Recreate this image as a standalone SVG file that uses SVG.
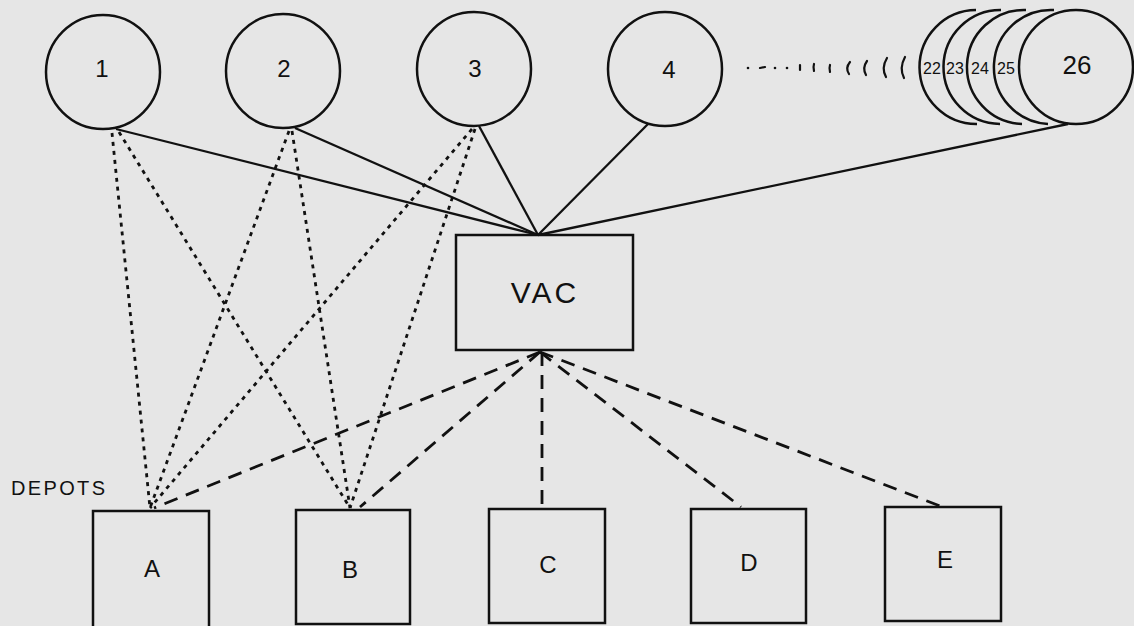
<svg xmlns="http://www.w3.org/2000/svg" width="1134" height="626" viewBox="0 0 1134 626">
<style>
.bg{fill:#e6e6e6}
.shape{fill:none;stroke:#111;stroke-width:2.5}
.solid{fill:none;stroke:#111;stroke-width:2.3}
.dot{fill:none;stroke:#111;stroke-width:2.8;stroke-dasharray:4 5}
.dash{fill:none;stroke:#111;stroke-width:2.8;stroke-dasharray:14 9}
.mark{fill:none;stroke:#111;stroke-width:2.2;stroke-linecap:round}
.lbl{font-family:"Liberation Sans",Arial,sans-serif;fill:#111;text-anchor:middle}
.big{font-size:24px}
.small{font-size:16px}
</style>
<rect class="bg" x="0" y="0" width="1134" height="626"/>
<g id="connectors">
<line class="solid" x1="116" y1="129" x2="538" y2="235"/>
<line class="solid" x1="295" y1="128" x2="538" y2="235"/>
<line class="solid" x1="479" y1="126" x2="538" y2="235"/>
<line class="solid" x1="648" y1="124" x2="538" y2="235"/>
<line class="solid" x1="1068" y1="124" x2="538" y2="235"/>
<line class="dot" x1="112" y1="133" x2="150" y2="508"/>
<line class="dot" x1="119" y1="132" x2="350" y2="508"/>
<line class="dot" x1="289" y1="131" x2="150" y2="508"/>
<line class="dot" x1="292" y1="131" x2="350" y2="508"/>
<line class="dot" x1="472" y1="129" x2="150" y2="508"/>
<line class="dot" x1="475" y1="129" x2="350" y2="508"/>
<line class="dash" x1="540" y1="352" x2="154" y2="508"/>
<line class="dash" x1="540" y1="352" x2="360" y2="507"/>
<line class="dash" x1="542" y1="352" x2="542" y2="509"/>
<line class="dash" x1="540" y1="352" x2="741" y2="507"/>
<line class="dash" x1="540" y1="352" x2="940" y2="506"/>
</g>
<g id="n1"><circle class="shape" cx="103" cy="72" r="57"/><text class="lbl big" x="102" y="77">1</text></g>
<g id="n2"><circle class="shape" cx="283" cy="71" r="57"/><text class="lbl big" x="284" y="77">2</text></g>
<g id="n3"><circle class="shape" cx="474" cy="69" r="57"/><text class="lbl big" x="475" y="77">3</text></g>
<g id="n4"><circle class="shape" cx="665" cy="69" r="57"/><text class="lbl big" x="669" y="78">4</text></g>
<g id="ellipsis">
<circle cx="748" cy="68" r="1.3" fill="#111"/>
<line class="mark" x1="760" y1="68" x2="765" y2="67"/>
<circle cx="775" cy="68" r="1.3" fill="#111"/>
<circle cx="787" cy="68" r="1.3" fill="#111"/>
<path class="mark" d="M800 65 L800 70"/>
<path class="mark" d="M814 64 Q813 67 814 71"/>
<path class="mark" d="M830 65 Q829 68 830 72"/>
<path class="mark" d="M850 62 Q845 68 849 74"/>
<path class="mark" d="M867 61 Q862 68 866 75"/>
<path class="mark" d="M887 58 Q881 68 886 77"/>
<path class="mark" d="M905 57 Q899 68 904 78"/>
</g>
<g id="n22"><path class="shape" d="M976 10 A57 57 0 0 0 977 124"/><text class="lbl small" x="932" y="74">22</text></g>
<g id="n23"><path class="shape" d="M1001 10 A57 57 0 0 0 1000 124"/><text class="lbl small" x="955" y="74">23</text></g>
<g id="n24"><path class="shape" d="M1026 10 A57 57 0 0 0 1022 124"/><text class="lbl small" x="980" y="74">24</text></g>
<g id="n25"><path class="shape" d="M1054 10 A57 57 0 0 0 1048 124"/><text class="lbl small" x="1006" y="74">25</text></g>
<g id="n26"><circle class="shape" cx="1076" cy="67" r="57"/><text class="lbl" x="1077" y="74" font-size="26">26</text></g>
<g id="vac"><rect class="shape" x="456" y="235" width="177" height="115"/><text class="lbl" x="545" y="303" font-size="30" letter-spacing="3">VAC</text></g>
<text class="lbl" x="58" y="495" font-size="20" textLength="94">DEPOTS</text>
<g id="depotA"><rect class="shape" x="93" y="511" width="116" height="120"/><text class="lbl big" x="152" y="577">A</text></g>
<g id="depotB"><rect class="shape" x="296" y="510" width="114" height="114"/><text class="lbl big" x="350" y="578">B</text></g>
<g id="depotC"><rect class="shape" x="489" y="509" width="116" height="114"/><text class="lbl big" x="548" y="573">C</text></g>
<g id="depotD"><rect class="shape" x="691" y="509" width="115" height="114"/><text class="lbl big" x="749" y="571">D</text></g>
<g id="depotE"><rect class="shape" x="885" y="507" width="116" height="114"/><text class="lbl big" x="945" y="568">E</text></g>
</svg>
